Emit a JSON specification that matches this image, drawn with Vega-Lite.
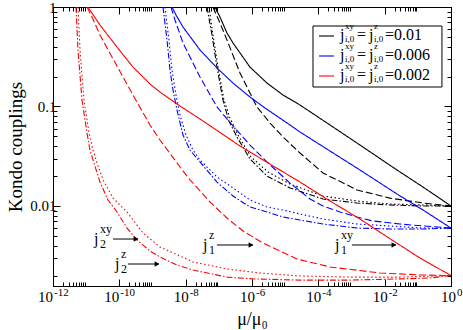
{
"$schema": "https://vega.github.io/schema/vega-lite/v6.json",
"width": 398, "height": 279,
"autosize": {"type": "none"},
"padding": {"left": 53, "top": 7, "right": 12, "bottom": 44},
"background": "white",
"config": {
  "view": {"stroke": "black", "strokeWidth": 1},
  "axis": {"domainColor": "black", "tickColor": "black", "labelColor": "black", "titleColor": "black", "grid": false, "labelFont": "Liberation Serif", "titleFont": "Liberation Serif", "tickWidth": 1, "domainWidth": 1},
  "text": {"font": "Liberation Serif", "color": "black"}
},
"datasets": {
  "curves": [
    {"id":"k1","c":"k","s":"j1xy","x":7.66e-8,"y":1},{"id":"k1","c":"k","s":"j1xy","x":1.083e-7,"y":0.793},{"id":"k1","c":"k","s":"j1xy","x":1.761e-7,"y":0.548},{"id":"k1","c":"k","s":"j1xy","x":2.671e-7,"y":0.435},{"id":"k1","c":"k","s":"j1xy","x":8.69e-7,"y":0.249},{"id":"k1","c":"k","s":"j1xy","x":2.829e-6,"y":0.172},{"id":"k1","c":"k","s":"j1xy","x":8.59e-6,"y":0.1305},{"id":"k1","c":"k","s":"j1xy","x":2.796e-5,"y":0.1035},{"id":"k1","c":"k","s":"j1xy","x":2.244e-4,"y":0.0652},{"id":"k1","c":"k","s":"j1xy","x":1.8e-3,"y":0.041},{"id":"k1","c":"k","s":"j1xy","x":2.349e-2,"y":0.023},{"id":"k1","c":"k","s":"j1xy","x":0.1428,"y":0.01552},{"id":"k1","c":"k","s":"j1xy","x":1,"y":0.01},
    {"id":"k2","c":"k","s":"j1z","x":6.66e-8,"y":1},{"id":"k2","c":"k","s":"j1z","x":1.083e-7,"y":0.69},{"id":"k2","c":"k","s":"j1z","x":1.761e-7,"y":0.466},{"id":"k2","c":"k","s":"j1z","x":4.342e-7,"y":0.2171},{"id":"k2","c":"k","s":"j1z","x":1.413e-6,"y":0.0989},{"id":"k2","c":"k","s":"j1z","x":3.484e-6,"y":0.0683},{"id":"k2","c":"k","s":"j1z","x":8.59e-6,"y":0.0494},{"id":"k2","c":"k","s":"j1z","x":2.796e-5,"y":0.0341},{"id":"k2","c":"k","s":"j1z","x":1.38e-4,"y":0.0215},{"id":"k2","c":"k","s":"j1z","x":1.462e-3,"y":0.0145},{"id":"k2","c":"k","s":"j1z","x":1.444e-2,"y":0.012},{"id":"k2","c":"k","s":"j1z","x":0.1428,"y":0.01072},{"id":"k2","c":"k","s":"j1z","x":1,"y":0.01},
    {"id":"k3","c":"k","s":"j2xy","x":5.05e-8,"y":1},{"id":"k3","c":"k","s":"j2xy","x":6.66e-8,"y":0.523},{"id":"k3","c":"k","s":"j2xy","x":9.43e-8,"y":0.249},{"id":"k3","c":"k","s":"j2xy","x":1.43e-7,"y":0.1162},{"id":"k3","c":"k","s":"j2xy","x":2.17e-7,"y":0.0766},{"id":"k3","c":"k","s":"j2xy","x":3.78e-7,"y":0.0517},{"id":"k3","c":"k","s":"j2xy","x":9.32e-7,"y":0.0311},{"id":"k3","c":"k","s":"j2xy","x":3.032e-6,"y":0.022},{"id":"k3","c":"k","s":"j2xy","x":1.397e-5,"y":0.0166},{"id":"k3","c":"k","s":"j2xy","x":1.38e-4,"y":0.0126},{"id":"k3","c":"k","s":"j2xy","x":1.462e-3,"y":0.01123},{"id":"k3","c":"k","s":"j2xy","x":1.444e-2,"y":0.01047},{"id":"k3","c":"k","s":"j2xy","x":0.1428,"y":0.01023},{"id":"k3","c":"k","s":"j2xy","x":1,"y":0.01},
    {"id":"k4","c":"k","s":"j2z","x":4.394e-8,"y":1},{"id":"k4","c":"k","s":"j2z","x":6.22e-8,"y":0.523},{"id":"k4","c":"k","s":"j2z","x":8.8e-8,"y":0.249},{"id":"k4","c":"k","s":"j2z","x":1.334e-7,"y":0.1162},{"id":"k4","c":"k","s":"j2z","x":2.02e-7,"y":0.0715},{"id":"k4","c":"k","s":"j2z","x":3.526e-7,"y":0.0494},{"id":"k4","c":"k","s":"j2z","x":8.69e-7,"y":0.0297},{"id":"k4","c":"k","s":"j2z","x":2.829e-6,"y":0.02},{"id":"k4","c":"k","s":"j2z","x":1.397e-5,"y":0.0152},{"id":"k4","c":"k","s":"j2z","x":1.38e-4,"y":0.01176},{"id":"k4","c":"k","s":"j2z","x":1.462e-3,"y":0.01072},{"id":"k4","c":"k","s":"j2z","x":1.444e-2,"y":0.01023},{"id":"k4","c":"k","s":"j2z","x":0.1428,"y":0.01},{"id":"k4","c":"k","s":"j2z","x":1,"y":0.01},
    {"id":"b1","c":"b","s":"j1xy","x":3.87e-9,"y":1},{"id":"b1","c":"b","s":"j1xy","x":5.11e-9,"y":0.831},{"id":"b1","c":"b","s":"j1xy","x":8.3e-9,"y":0.629},{"id":"b1","c":"b","s":"j1xy","x":2.703e-8,"y":0.37},{"id":"b1","c":"b","s":"j1xy","x":8.8e-8,"y":0.244},{"id":"b1","c":"b","s":"j1xy","x":2.671e-7,"y":0.172},{"id":"b1","c":"b","s":"j1xy","x":8.69e-7,"y":0.1246},{"id":"b1","c":"b","s":"j1xy","x":2.463e-6,"y":0.0966},{"id":"b1","c":"b","s":"j1xy","x":1.397e-5,"y":0.0652},{"id":"b1","c":"b","s":"j1xy","x":2.796e-5,"y":0.0554},{"id":"b1","c":"b","s":"j1xy","x":2.244e-4,"y":0.0357},{"id":"b1","c":"b","s":"j1xy","x":1.8e-3,"y":0.023},{"id":"b1","c":"b","s":"j1xy","x":2.349e-2,"y":0.0132},{"id":"b1","c":"b","s":"j1xy","x":0.1428,"y":0.00912},{"id":"b1","c":"b","s":"j1xy","x":1,"y":0.006},
    {"id":"b2","c":"b","s":"j1z","x":3.61e-9,"y":1},{"id":"b2","c":"b","s":"j1z","x":4.77e-9,"y":0.74},{"id":"b2","c":"b","s":"j1z","x":8.3e-9,"y":0.435},{"id":"b2","c":"b","s":"j1z","x":2.703e-8,"y":0.198},{"id":"b2","c":"b","s":"j1z","x":8.8e-8,"y":0.0989},{"id":"b2","c":"b","s":"j1z","x":2.671e-7,"y":0.0637},{"id":"b2","c":"b","s":"j1z","x":8.69e-7,"y":0.041},{"id":"b2","c":"b","s":"j1z","x":2.829e-6,"y":0.0277},{"id":"b2","c":"b","s":"j1z","x":1.397e-5,"y":0.017},{"id":"b2","c":"b","s":"j1z","x":5.598e-5,"y":0.01176},{"id":"b2","c":"b","s":"j1z","x":1.38e-4,"y":0.01},{"id":"b2","c":"b","s":"j1z","x":4.492e-4,"y":0.00871},{"id":"b2","c":"b","s":"j1z","x":1.462e-3,"y":0.00775},{"id":"b2","c":"b","s":"j1z","x":4.439e-3,"y":0.00707},{"id":"b2","c":"b","s":"j1z","x":2.893e-2,"y":0.00659},{"id":"b2","c":"b","s":"j1z","x":0.1428,"y":0.0063},{"id":"b2","c":"b","s":"j1z","x":1,"y":0.006},
    {"id":"b3","c":"b","s":"j2xy","x":2.38e-9,"y":1},{"id":"b3","c":"b","s":"j2xy","x":3.14e-9,"y":0.466},{"id":"b3","c":"b","s":"j2xy","x":3.87e-9,"y":0.233},{"id":"b3","c":"b","s":"j2xy","x":5.11e-9,"y":0.1305},{"id":"b3","c":"b","s":"j2xy","x":6.74e-9,"y":0.0821},{"id":"b3","c":"b","s":"j2xy","x":1.023e-8,"y":0.0517},{"id":"b3","c":"b","s":"j2xy","x":1.662e-8,"y":0.0365},{"id":"b3","c":"b","s":"j2xy","x":2.703e-8,"y":0.029},{"id":"b3","c":"b","s":"j2xy","x":8.8e-8,"y":0.0196},{"id":"b3","c":"b","s":"j2xy","x":2.671e-7,"y":0.0152},{"id":"b3","c":"b","s":"j2xy","x":8.69e-7,"y":0.01149},{"id":"b3","c":"b","s":"j2xy","x":2.829e-6,"y":0.00977},{"id":"b3","c":"b","s":"j2xy","x":8.59e-6,"y":0.00912},{"id":"b3","c":"b","s":"j2xy","x":2.796e-5,"y":0.00831},{"id":"b3","c":"b","s":"j2xy","x":1.38e-4,"y":0.0074},{"id":"b3","c":"b","s":"j2xy","x":1.462e-3,"y":0.00659},{"id":"b3","c":"b","s":"j2xy","x":1.444e-2,"y":0.0063},{"id":"b3","c":"b","s":"j2xy","x":0.1428,"y":0.006},{"id":"b3","c":"b","s":"j2xy","x":1,"y":0.006},
    {"id":"b4","c":"b","s":"j2z","x":2.07e-9,"y":1},{"id":"b4","c":"b","s":"j2z","x":2.74e-9,"y":0.466},{"id":"b4","c":"b","s":"j2z","x":3.37e-9,"y":0.233},{"id":"b4","c":"b","s":"j2z","x":4.15e-9,"y":0.1465},{"id":"b4","c":"b","s":"j2z","x":5.47e-9,"y":0.0922},{"id":"b4","c":"b","s":"j2z","x":8.3e-9,"y":0.0517},{"id":"b4","c":"b","s":"j2z","x":1.35e-8,"y":0.0365},{"id":"b4","c":"b","s":"j2z","x":2.703e-8,"y":0.0277},{"id":"b4","c":"b","s":"j2z","x":8.8e-8,"y":0.0174},{"id":"b4","c":"b","s":"j2z","x":2.671e-7,"y":0.0126},{"id":"b4","c":"b","s":"j2z","x":8.69e-7,"y":0.00977},{"id":"b4","c":"b","s":"j2z","x":2.829e-6,"y":0.00871},{"id":"b4","c":"b","s":"j2z","x":8.59e-6,"y":0.00775},{"id":"b4","c":"b","s":"j2z","x":2.796e-5,"y":0.00723},{"id":"b4","c":"b","s":"j2z","x":1.38e-4,"y":0.00659},{"id":"b4","c":"b","s":"j2z","x":1.462e-3,"y":0.006},{"id":"b4","c":"b","s":"j2z","x":1.444e-2,"y":0.00587},{"id":"b4","c":"b","s":"j2z","x":0.1428,"y":0.00587},{"id":"b4","c":"b","s":"j2z","x":1,"y":0.006},
    {"id":"r1","c":"r","s":"j1xy","x":1.14e-11,"y":1},{"id":"r1","c":"r","s":"j1xy","x":1.3e-11,"y":0.933},{"id":"r1","c":"r","s":"j1xy","x":2.61e-11,"y":0.659},{"id":"r1","c":"r","s":"j1xy","x":8.5e-11,"y":0.396},{"id":"r1","c":"r","s":"j1xy","x":2.58e-10,"y":0.249},{"id":"r1","c":"r","s":"j1xy","x":8.4e-10,"y":0.1683},{"id":"r1","c":"r","s":"j1xy","x":1.68e-9,"y":0.1398},{"id":"r1","c":"r","s":"j1xy","x":2.74e-9,"y":0.1246},{"id":"r1","c":"r","s":"j1xy","x":5.47e-9,"y":0.106},{"id":"r1","c":"r","s":"j1xy","x":2.703e-8,"y":0.0749},{"id":"r1","c":"r","s":"j1xy","x":4.342e-7,"y":0.0401},{"id":"r1","c":"r","s":"j1xy","x":3.484e-6,"y":0.0264},{"id":"r1","c":"r","s":"j1xy","x":2.796e-5,"y":0.0174},{"id":"r1","c":"r","s":"j1xy","x":2.244e-4,"y":0.01123},{"id":"r1","c":"r","s":"j1xy","x":1.8e-3,"y":0.0074},{"id":"r1","c":"r","s":"j1xy","x":1.66e-2,"y":0.00455},{"id":"r1","c":"r","s":"j1xy","x":0.116,"y":0.003},{"id":"r1","c":"r","s":"j1xy","x":1,"y":0.002},
    {"id":"r2","c":"r","s":"j1z","x":1.06e-11,"y":1},{"id":"r2","c":"r","s":"j1z","x":1.5e-11,"y":0.793},{"id":"r2","c":"r","s":"j1z","x":2.61e-11,"y":0.523},{"id":"r2","c":"r","s":"j1z","x":8.5e-11,"y":0.255},{"id":"r2","c":"r","s":"j1z","x":2.58e-10,"y":0.1305},{"id":"r2","c":"r","s":"j1z","x":8.4e-10,"y":0.0652},{"id":"r2","c":"r","s":"j1z","x":1.68e-9,"y":0.0461},{"id":"r2","c":"r","s":"j1z","x":5.47e-9,"y":0.0271},{"id":"r2","c":"r","s":"j1z","x":8.3e-9,"y":0.0225},{"id":"r2","c":"r","s":"j1z","x":1.35e-8,"y":0.0183},{"id":"r2","c":"r","s":"j1z","x":2.703e-8,"y":0.0142},{"id":"r2","c":"r","s":"j1z","x":5.41e-8,"y":0.01097},{"id":"r2","c":"r","s":"j1z","x":1.761e-7,"y":0.00757},{"id":"r2","c":"r","s":"j1z","x":5.347e-7,"y":0.00561},{"id":"r2","c":"r","s":"j1z","x":2.143e-6,"y":0.00425},{"id":"r2","c":"r","s":"j1z","x":2.27e-5,"y":0.00293},{"id":"r2","c":"r","s":"j1z","x":2.244e-4,"y":0.00244},{"id":"r2","c":"r","s":"j1z","x":7.22e-3,"y":0.00212},{"id":"r2","c":"r","s":"j1z","x":0.116,"y":0.00203},{"id":"r2","c":"r","s":"j1z","x":1,"y":0.002},
    {"id":"r3","c":"r","s":"j2xy","x":5.67e-12,"y":1},{"id":"r3","c":"r","s":"j2xy","x":6.52e-12,"y":0.37},{"id":"r3","c":"r","s":"j2xy","x":8.6e-12,"y":0.1162},{"id":"r3","c":"r","s":"j2xy","x":1.22e-11,"y":0.0542},{"id":"r3","c":"r","s":"j2xy","x":1.61e-11,"y":0.0365},{"id":"r3","c":"r","s":"j2xy","x":2.12e-11,"y":0.0271},{"id":"r3","c":"r","s":"j2xy","x":3.22e-11,"y":0.0183},{"id":"r3","c":"r","s":"j2xy","x":6.44e-11,"y":0.012},{"id":"r3","c":"r","s":"j2xy","x":1.7e-10,"y":0.00871},{"id":"r3","c":"r","s":"j2xy","x":5.17e-10,"y":0.00535},{"id":"r3","c":"r","s":"j2xy","x":1.68e-9,"y":0.00387},{"id":"r3","c":"r","s":"j2xy","x":1.662e-8,"y":0.00274},{"id":"r3","c":"r","s":"j2xy","x":1.761e-7,"y":0.00233},{"id":"r3","c":"r","s":"j2xy","x":1.74e-6,"y":0.00212},{"id":"r3","c":"r","s":"j2xy","x":2.796e-5,"y":0.00198},{"id":"r3","c":"r","s":"j2xy","x":8.99e-4,"y":0.00193},{"id":"r3","c":"r","s":"j2xy","x":2.893e-2,"y":0.00193},{"id":"r3","c":"r","s":"j2xy","x":1,"y":0.002},
    {"id":"r4","c":"r","s":"j2z","x":4.94e-12,"y":1},{"id":"r4","c":"r","s":"j2z","x":5.67e-12,"y":0.37},{"id":"r4","c":"r","s":"j2z","x":7.48e-12,"y":0.1162},{"id":"r4","c":"r","s":"j2z","x":1.06e-11,"y":0.0542},{"id":"r4","c":"r","s":"j2z","x":1.3e-11,"y":0.0365},{"id":"r4","c":"r","s":"j2z","x":1.61e-11,"y":0.029},{"id":"r4","c":"r","s":"j2z","x":2.61e-11,"y":0.0174},{"id":"r4","c":"r","s":"j2z","x":4.55e-11,"y":0.01149},{"id":"r4","c":"r","s":"j2z","x":8.5e-11,"y":0.00871},{"id":"r4","c":"r","s":"j2z","x":1.7e-10,"y":0.006},{"id":"r4","c":"r","s":"j2z","x":3.41e-10,"y":0.00455},{"id":"r4","c":"r","s":"j2z","x":8.4e-10,"y":0.00353},{"id":"r4","c":"r","s":"j2z","x":1.68e-9,"y":0.00307},{"id":"r4","c":"r","s":"j2z","x":5.47e-9,"y":0.00255},{"id":"r4","c":"r","s":"j2z","x":1.662e-8,"y":0.00227},{"id":"r4","c":"r","s":"j2z","x":1.761e-7,"y":0.00193},{"id":"r4","c":"r","s":"j2z","x":1.071e-6,"y":0.00185},{"id":"r4","c":"r","s":"j2z","x":2.796e-5,"y":0.0018},{"id":"r4","c":"r","s":"j2z","x":8.99e-4,"y":0.0018},{"id":"r4","c":"r","s":"j2z","x":2.893e-2,"y":0.00185},{"id":"r4","c":"r","s":"j2z","x":0.2321,"y":0.00189},{"id":"r4","c":"r","s":"j2z","x":1,"y":0.002}
  ],
  "ann": [
    {"sup":"xy","sub":"2","lx":1.72e-11,"ay":0.004657,"a1":6.44e-11,"a2":3.66e-10},
    {"sup":"z","sub":"2","lx":7.4e-11,"ay":0.002612,"a1":1.82e-10,"a2":1.57e-9},
    {"sup":"z","sub":"1","lx":3.33e-8,"ay":0.004055,"a1":8.79e-8,"a2":1.07e-6},
    {"sup":"xy","sub":"1","lx":3.18e-4,"ay":0.004055,"a1":1.03e-3,"a2":0.0219}
  ],
  "xt": [
    {"v":1e-12,"e":"-12","g":3},{"v":1e-10,"e":"-10","g":3},{"v":1e-8,"e":"-8","g":2},{"v":1e-6,"e":"-6","g":2},{"v":1e-4,"e":"-4","g":2},{"v":1e-2,"e":"-2","g":2},{"v":1,"e":"0","g":1}
  ],
  "box": [{"x1":6.9e-5,"x2":0.534,"y1":0.644,"y2":0.157}],
  "leg": [
    {"c":"k","v":"=0.01","x1":1.046e-4,"x2":2.962e-4,"lx":5.16e-4,"y":0.511},
    {"c":"b","v":"=0.006","x1":1.046e-4,"x2":2.962e-4,"lx":5.16e-4,"y":0.3218},
    {"c":"r","v":"=0.002","x1":1.046e-4,"x2":2.962e-4,"lx":5.16e-4,"y":0.2025}
  ]
},
"resolve": {"axis": {"x": "independent", "y": "independent"}},
"layer": [
  {
    "data": {"name": "curves"},
    "mark": {"type": "line", "strokeWidth": 1.1, "clip": true},
    "encoding": {
      "x": {"field": "x", "type": "quantitative", "scale": {"type": "log", "domain": [1e-12, 1], "nice": false},
        "axis": {"orient": "bottom", "values": [1e-12,2e-12,3e-12,4e-12,5e-12,6e-12,7e-12,8e-12,9e-12,1e-10,2e-10,3e-10,4e-10,5e-10,6e-10,7e-10,8e-10,9e-10,1e-8,2e-8,3e-8,4e-8,5e-8,6e-8,7e-8,8e-8,9e-8,1e-6,2e-6,3e-6,4e-6,5e-6,6e-6,7e-6,8e-6,9e-6,1e-4,2e-4,3e-4,4e-4,5e-4,6e-4,7e-4,8e-4,9e-4,1e-2,2e-2,3e-2,4e-2,5e-2,6e-2,7e-2,8e-2,9e-2,1],
          "labels": false, "tickSize": {"condition": {"test": "abs(log(datum.value)/LN10 - round(log(datum.value)/LN10)) < 0.01", "value": -7}, "value": -4},
          "title": "μ/μ₀", "titleFontSize": 18, "titleFontWeight": "normal", "titlePadding": 24}},
      "y": {"field": "y", "type": "quantitative", "scale": {"type": "log", "domain": [0.00157, 1], "nice": false},
        "axis": {"orient": "left", "values": [0.002,0.003,0.004,0.005,0.006,0.007,0.008,0.009,0.01,0.02,0.03,0.04,0.05,0.06,0.07,0.08,0.09,0.1,0.2,0.3,0.4,0.5,0.6,0.7,0.8,0.9,1],
          "labelExpr": "datum.value > 0.99 ? '1' : (datum.value > 0.099 && datum.value < 0.101) ? '0.1' : (datum.value > 0.0099 && datum.value < 0.0101) ? '0.01' : ''",
          "labelFontSize": 15, "labelPadding": 4, "labelOverlap": false, "labelFlush": false, "labelBound": false,
          "tickSize": {"condition": {"test": "abs(log(datum.value)/LN10 - round(log(datum.value)/LN10)) < 0.01", "value": -7}, "value": -4},
          "title": "Kondo couplings", "titleFontSize": 19, "titleFontWeight": "normal", "titlePadding": 4}},
      "color": {"field": "c", "type": "nominal", "scale": {"domain": ["k", "b", "r"], "range": ["#000000", "#0000ff", "#ff0000"]}, "legend": null},
      "strokeDash": {"field": "s", "type": "nominal", "scale": {"domain": ["j1xy", "j1z", "j2xy", "j2z"], "range": [[1, 0], [7, 3], [1.5, 2.5], [6, 2, 1.5, 2]]}, "legend": null},
      "detail": {"field": "id"}
    }
  },
  {
    "data": {"name": "ann"},
    "mark": {"type": "rule", "color": "black", "strokeWidth": 1},
    "encoding": {
      "x": {"field": "a1", "type": "quantitative", "scale": {"type": "log", "domain": [1e-12, 1], "nice": false},
        "axis": {"orient": "top", "values": [1e-12,2e-12,3e-12,4e-12,5e-12,6e-12,7e-12,8e-12,9e-12,1e-10,2e-10,3e-10,4e-10,5e-10,6e-10,7e-10,8e-10,9e-10,1e-8,2e-8,3e-8,4e-8,5e-8,6e-8,7e-8,8e-8,9e-8,1e-6,2e-6,3e-6,4e-6,5e-6,6e-6,7e-6,8e-6,9e-6,1e-4,2e-4,3e-4,4e-4,5e-4,6e-4,7e-4,8e-4,9e-4,1e-2,2e-2,3e-2,4e-2,5e-2,6e-2,7e-2,8e-2,9e-2,1],
          "labels": false, "title": null, "tickSize": {"condition": {"test": "abs(log(datum.value)/LN10 - round(log(datum.value)/LN10)) < 0.01", "value": -7}, "value": -4}}},
      "x2": {"field": "a2"},
      "y": {"field": "ay", "type": "quantitative", "scale": {"type": "log", "domain": [0.00157, 1], "nice": false},
        "axis": {"orient": "right", "values": [0.002,0.003,0.004,0.005,0.006,0.007,0.008,0.009,0.01,0.02,0.03,0.04,0.05,0.06,0.07,0.08,0.09,0.1,0.2,0.3,0.4,0.5,0.6,0.7,0.8,0.9,1],
          "labels": false, "title": null, "tickSize": {"condition": {"test": "abs(log(datum.value)/LN10 - round(log(datum.value)/LN10)) < 0.01", "value": -7}, "value": -4}}}
    }
  },
  {
    "data": {"name": "ann"},
    "mark": {"type": "point", "shape": "triangle-right", "filled": true, "size": 30, "color": "black", "opacity": 1, "xOffset": -2},
    "encoding": {
      "x": {"field": "a2", "type": "quantitative", "scale": {"type": "log", "domain": [1e-12, 1], "nice": false}, "axis": null},
      "y": {"field": "ay", "type": "quantitative", "scale": {"type": "log", "domain": [0.00157, 1], "nice": false}, "axis": null}
    }
  },
  {
    "data": {"name": "ann"},
    "encoding": {
      "x": {"field": "lx", "type": "quantitative", "scale": {"type": "log", "domain": [1e-12, 1], "nice": false}, "axis": null},
      "y": {"field": "ay", "type": "quantitative", "scale": {"type": "log", "domain": [0.00157, 1], "nice": false}, "axis": null}
    },
    "layer": [
      {"mark": {"type": "text", "text": "j", "fontSize": 16, "align": "left", "baseline": "alphabetic", "dy": 5, "font": "Liberation Serif", "color": "black"}},
      {"mark": {"type": "text", "fontSize": 12, "align": "left", "baseline": "alphabetic", "dx": 6, "dy": -6, "font": "Liberation Serif", "color": "black"}, "encoding": {"text": {"field": "sup"}}},
      {"mark": {"type": "text", "fontSize": 12, "align": "left", "baseline": "alphabetic", "dx": 6, "dy": 9, "font": "Liberation Serif", "color": "black"}, "encoding": {"text": {"field": "sub"}}}
    ]
  },
  {
    "data": {"name": "xt"},
    "transform": [{"filter": "datum.g == 3"}],
    "encoding": {
      "x": {"field": "v", "type": "quantitative", "scale": {"type": "log", "domain": [1e-12, 1], "nice": false}, "axis": null},
      "y": {"datum": 0.00157, "type": "quantitative", "scale": {"type": "log", "domain": [0.00157, 1], "nice": false}, "axis": null}
    },
    "layer": [
      {"mark": {"type": "text", "text": "10", "fontSize": 15, "align": "right", "baseline": "alphabetic", "dx": 0, "dy": 16, "font": "Liberation Serif", "color": "black"}},
      {"mark": {"type": "text", "fontSize": 11, "align": "left", "baseline": "alphabetic", "dx": 1, "dy": 10, "font": "Liberation Serif", "color": "black"}, "encoding": {"text": {"field": "e"}}}
    ]
  },
  {
    "data": {"name": "xt"},
    "transform": [{"filter": "datum.g == 2"}],
    "encoding": {
      "x": {"field": "v", "type": "quantitative", "scale": {"type": "log", "domain": [1e-12, 1], "nice": false}, "axis": null},
      "y": {"datum": 0.00157, "type": "quantitative", "scale": {"type": "log", "domain": [0.00157, 1], "nice": false}, "axis": null}
    },
    "layer": [
      {"mark": {"type": "text", "text": "10", "fontSize": 15, "align": "right", "baseline": "alphabetic", "dx": 3, "dy": 16, "font": "Liberation Serif", "color": "black"}},
      {"mark": {"type": "text", "fontSize": 11, "align": "left", "baseline": "alphabetic", "dx": 4, "dy": 10, "font": "Liberation Serif", "color": "black"}, "encoding": {"text": {"field": "e"}}}
    ]
  },
  {
    "data": {"name": "xt"},
    "transform": [{"filter": "datum.g == 1"}],
    "encoding": {
      "x": {"field": "v", "type": "quantitative", "scale": {"type": "log", "domain": [1e-12, 1], "nice": false}, "axis": null},
      "y": {"datum": 0.00157, "type": "quantitative", "scale": {"type": "log", "domain": [0.00157, 1], "nice": false}, "axis": null}
    },
    "layer": [
      {"mark": {"type": "text", "text": "10", "fontSize": 15, "align": "right", "baseline": "alphabetic", "dx": 5, "dy": 16, "font": "Liberation Serif", "color": "black"}},
      {"mark": {"type": "text", "fontSize": 11, "align": "left", "baseline": "alphabetic", "dx": 6, "dy": 10, "font": "Liberation Serif", "color": "black"}, "encoding": {"text": {"field": "e"}}}
    ]
  },
  {
    "data": {"name": "box"},
    "mark": {"type": "rect", "fill": "white", "stroke": "black", "strokeWidth": 1},
    "encoding": {
      "x": {"field": "x1", "type": "quantitative", "scale": {"type": "log", "domain": [1e-12, 1], "nice": false}, "axis": null},
      "x2": {"field": "x2"},
      "y": {"field": "y1", "type": "quantitative", "scale": {"type": "log", "domain": [0.00157, 1], "nice": false}, "axis": null},
      "y2": {"field": "y2"}
    }
  },
  {
    "data": {"name": "leg"},
    "encoding": {
      "y": {"field": "y", "type": "quantitative", "scale": {"type": "log", "domain": [0.00157, 1], "nice": false}, "axis": null}
    },
    "layer": [
      {"mark": {"type": "rule", "strokeWidth": 1.1},
       "encoding": {
         "x": {"field": "x1", "type": "quantitative", "scale": {"type": "log", "domain": [1e-12, 1], "nice": false}, "axis": null},
         "x2": {"field": "x2"},
         "color": {"field": "c", "type": "nominal", "scale": {"domain": ["k", "b", "r"], "range": ["#000000", "#0000ff", "#ff0000"]}, "legend": null}}},
      {"mark": {"type": "text", "text": "j", "fontSize": 16, "align": "left", "baseline": "alphabetic", "dx": -2, "dy": 4, "font": "Liberation Serif", "color": "black"},
       "encoding": {"x": {"field": "lx", "type": "quantitative", "scale": {"type": "log", "domain": [1e-12, 1], "nice": false}, "axis": null}}},
      {"mark": {"type": "text", "text": "xy", "fontSize": 9, "align": "left", "baseline": "alphabetic", "dx": 3, "dy": -7, "font": "Liberation Serif", "color": "black"},
       "encoding": {"x": {"field": "lx", "type": "quantitative", "scale": {"type": "log", "domain": [1e-12, 1], "nice": false}, "axis": null}}},
      {"mark": {"type": "text", "text": "i,0", "fontSize": 9, "align": "left", "baseline": "alphabetic", "dx": 3, "dy": 6, "font": "Liberation Serif", "color": "black"},
       "encoding": {"x": {"field": "lx", "type": "quantitative", "scale": {"type": "log", "domain": [1e-12, 1], "nice": false}, "axis": null}}},
      {"mark": {"type": "text", "text": "=", "fontSize": 16, "align": "left", "baseline": "alphabetic", "dx": 15, "dy": 4, "font": "Liberation Serif", "color": "black"},
       "encoding": {"x": {"field": "lx", "type": "quantitative", "scale": {"type": "log", "domain": [1e-12, 1], "nice": false}, "axis": null}}},
      {"mark": {"type": "text", "text": "j", "fontSize": 16, "align": "left", "baseline": "alphabetic", "dx": 27, "dy": 4, "font": "Liberation Serif", "color": "black"},
       "encoding": {"x": {"field": "lx", "type": "quantitative", "scale": {"type": "log", "domain": [1e-12, 1], "nice": false}, "axis": null}}},
      {"mark": {"type": "text", "text": "z", "fontSize": 9, "align": "left", "baseline": "alphabetic", "dx": 32, "dy": -7, "font": "Liberation Serif", "color": "black"},
       "encoding": {"x": {"field": "lx", "type": "quantitative", "scale": {"type": "log", "domain": [1e-12, 1], "nice": false}, "axis": null}}},
      {"mark": {"type": "text", "text": "i,0", "fontSize": 9, "align": "left", "baseline": "alphabetic", "dx": 32, "dy": 6, "font": "Liberation Serif", "color": "black"},
       "encoding": {"x": {"field": "lx", "type": "quantitative", "scale": {"type": "log", "domain": [1e-12, 1], "nice": false}, "axis": null}}},
      {"mark": {"type": "text", "fontSize": 16, "align": "left", "baseline": "alphabetic", "dx": 43, "dy": 4, "font": "Liberation Serif", "color": "black"},
       "encoding": {"x": {"field": "lx", "type": "quantitative", "scale": {"type": "log", "domain": [1e-12, 1], "nice": false}, "axis": null}, "text": {"field": "v"}}}
    ]
  }
]
}
